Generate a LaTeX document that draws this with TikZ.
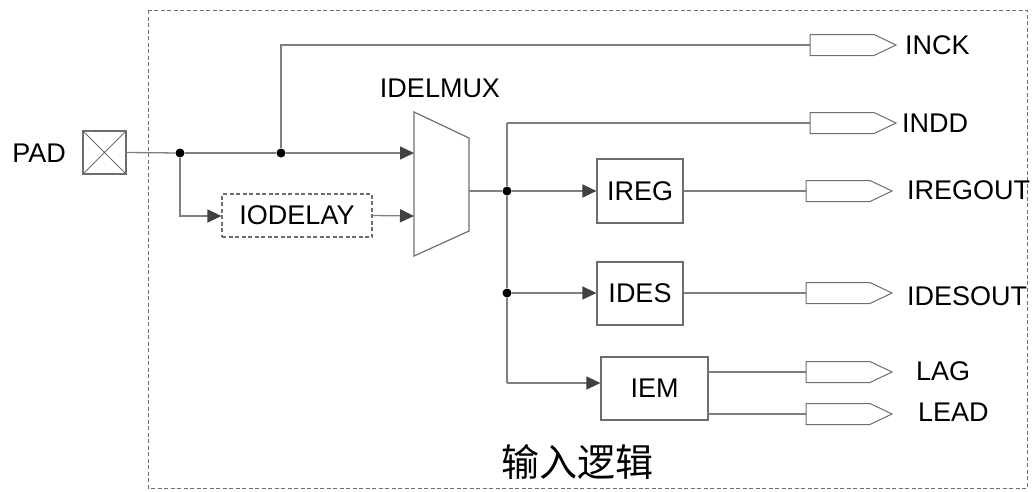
\documentclass[tikz,border=0pt]{standalone}
\usepackage{fontspec}
\setmainfont{Liberation Sans}
\newfontfamily\cjk{Noto Sans CJK SC}
\usetikzlibrary{arrows.meta}
\definecolor{linegray}{HTML}{7F7F7F}
\definecolor{tipgray}{HTML}{404040}
\definecolor{boxgray}{HTML}{6E6E6E}
\begin{document}
\begin{tikzpicture}[x=1pt,y=-1pt,
  line/.style={draw=linegray, line width=1.3pt},
  arr/.style={line, -{Triangle[length=14pt,width=13pt,color=tipgray]}},
  blk/.style={draw=boxgray, line width=1.2pt, rectangle, inner sep=0pt, font=\fontsize{27}{32}\selectfont},
  lbl/.style={inner sep=0pt, font=\fontsize{27}{32}\selectfont},
  dot/.style={circle, fill=black, inner sep=0pt, minimum size=9pt},
  portshape/.pic={\draw[draw=boxgray, line width=1pt, fill=white] (0,-10.5) -- (64,-10.5) -- (86,0) -- (64,10.5) -- (0,10.5) -- cycle;}
]
\useasboundingbox (0,0) rectangle (1036,491);
% outer dashed frame
\draw[draw=boxgray, line width=1pt, dash pattern=on 4pt off 2.5pt] (148,10) rectangle (1027,488);
\node[lbl] (cap) at (577,462) {\cjk\fontsize{38}{42}\selectfont 输入逻辑};

% PAD
\node[lbl, anchor=east] (padlbl) at (66,153) {PAD};
\node[blk, minimum width=43pt, minimum height=43pt] (pad) at (104.5,152.5) {};
\draw[draw=boxgray, line width=1pt] (pad.north west) -- (pad.south east) (pad.north east) -- (pad.south west);

% mux
\coordinate (mtl) at (414,112);
\coordinate (mbl) at (414,256);
\coordinate (mtr) at (469,138);
\coordinate (mbr) at (469,231);
\draw[draw=boxgray, line width=1.2pt] (mtl) -- (mtr) -- (mbr) -- (mbl) -- cycle;
\coordinate (min1) at (414,153);
\coordinate (min2) at (414,216);
\coordinate (mout) at (469,191);
\node[lbl] (muxlbl) at (440,88) {IDELMUX};

% junctions
\node[dot] (j1) at (180,153) {};
\node[dot] (j2) at (281,153) {};
\node[dot] (j3) at (507,191) {};
\node[dot] (j4) at (507,293) {};
\coordinate (c1) at (281,45);
\coordinate (c2) at (180,216);
\coordinate (c3) at (507,123);
\coordinate (c4) at (507,383);

% blocks
\node[blk, dashed, dash pattern=on 4pt off 2.5pt, minimum width=150pt, minimum height=43pt] (iodelay) at (297,215.5) {IODELAY};
\node[blk, minimum width=86pt, minimum height=64pt] (ireg) at (640,191) {IREG};
\node[blk, minimum width=86pt, minimum height=63pt] (ides) at (640,293.5) {IDES};
\node[blk, minimum width=107pt, minimum height=63pt] (iem) at (654.5,388.5) {IEM};

% ports
\coordinate (pinck) at (810,45);
\coordinate (pindd) at (810,123);
\coordinate (preg) at (806,191);
\coordinate (pdes) at (806,293);
\coordinate (plag) at (806,372);
\coordinate (plead) at (806,414);
\coordinate (iemo1) at (708,372);
\coordinate (iemo2) at (708,414);

% connectors
\draw[line] (pad.east) -- (j1);
\draw[line] (j1) -- (j2);
\draw[arr] (j2) -- (min1);
\draw[line] (j2) -- (c1) -- (pinck);
\draw[arr] (j1) -- (c2) -- (c2 -| iodelay.west);
\draw[arr] (iodelay.east) -- (min2);
\draw[line] (mout) -- (j3);
\draw[arr] (j3) -- (ireg.west);
\draw[line] (c3) -- (j3) -- (j4) -- (c4);
\draw[line] (c3) -- (pindd);
\draw[arr] (j4) -- (j4 -| ides.west);
\draw[arr] (c4) -- (c4 -| iem.west);
\draw[line] (ireg.east) -- (preg);
\draw[line] (pdes -| ides.east) -- (pdes);
\draw[line] (iemo1) -- (plag);
\draw[line] (iemo2) -- (plead);

\pic at (pinck) {portshape};
\pic at (pindd) {portshape};
\pic at (preg) {portshape};
\pic at (pdes) {portshape};
\pic at (plag) {portshape};
\pic at (plead) {portshape};

\node[lbl, anchor=west] (tinck) at (905,45) {INCK};
\node[lbl, anchor=west] (tindd) at (902,123) {INDD};
\node[lbl, anchor=west] (treg) at (907,190) {IREGOUT};
\node[lbl, anchor=west] (tdes) at (907,296) {IDESOUT};
\node[lbl, anchor=west] (tlag) at (916,371) {LAG};
\node[lbl, anchor=west] (tlead) at (918,412) {LEAD};
\end{tikzpicture}
\end{document}
